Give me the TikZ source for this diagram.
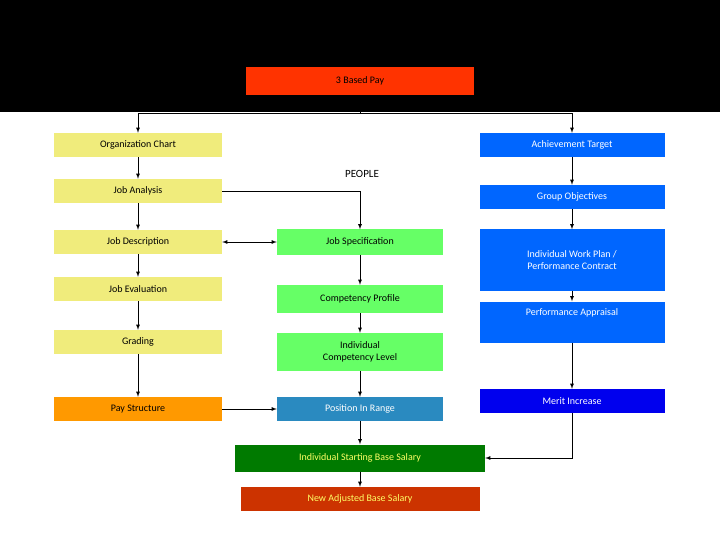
\documentclass[tikz,border=0pt]{standalone}
\usepackage{fontspec}
\setmainfont{Carlito}
\usetikzlibrary{arrows,calc,positioning}
\definecolor{ylbox}{HTML}{F0EC7C}
\definecolor{orbox}{HTML}{FF9900}
\definecolor{blbox}{HTML}{0066FF}
\definecolor{dbbox}{HTML}{0000EE}
\definecolor{grbox}{HTML}{66FF66}
\definecolor{tlbox}{HTML}{2A8AC0}
\definecolor{dgbox}{HTML}{007A00}
\definecolor{rdbox}{HTML}{CC3300}
\definecolor{ttbox}{HTML}{FF3300}
\definecolor{yltext}{HTML}{FFFF66}

\begin{document}
\begin{tikzpicture}[
    x=1pt, y=-1pt,
    font=\fontsize{10}{12}\selectfont,
    box/.style={rectangle, inner sep=0, align=center},
    leftbox/.style={box, fill=ylbox, minimum width=168pt, minimum height=24pt},
    rightbox/.style={box, fill=blbox, text=white, minimum width=185pt, minimum height=24pt},
    midbox/.style={box, fill=grbox, minimum width=166pt, minimum height=25pt},
    conn/.style={draw, thick, -latex}]
\useasboundingbox (0,0) rectangle (720,540);
\fill[black] (0,0) rectangle (720,112);

\node[box, fill=ttbox, minimum width=228pt, minimum height=28pt] (title) at (360,81) {3 Based Pay};

% left column
\node[leftbox] (org) at (138,145) {Organization Chart};
\node[leftbox] (analysis) at (138,191) {Job Analysis};
\node[leftbox] (desc) at (138,242) {Job Description};
\node[leftbox] (eval) at (138,289) {Job Evaluation};
\node[leftbox] (grading) at (138,342) {Grading};
\node[leftbox, fill=orbox] (paystruct) at (138,409) {Pay Structure};

% middle column
\node[box] (people) at (362,174) {\fontsize{11}{13}\selectfont PEOPLE};
\node[midbox] (jobspec) at (360,242) {Job Specification};
\node[midbox, minimum height=28pt] (competency) at (360,299) {Competency Profile};
\node[midbox, minimum height=38pt] (level) at (360,352) {Individual\\Competency Level};
\node[midbox, fill=tlbox, text=white, minimum height=24pt] (position) at (360,409) {Position In Range};
\node[box, fill=dgbox, text=yltext, minimum width=250pt, minimum height=27pt] (starting) at (360,458) {Individual Starting Base Salary};
\node[box, fill=rdbox, text=yltext, minimum width=239pt, minimum height=24pt] (adjusted) at (360,499) {New Adjusted Base Salary};

% right column
\node[rightbox] (target) at (572,145) {Achievement Target};
\node[rightbox] (group) at (572,197) {Group Objectives};
\node[rightbox, minimum height=61pt] (workplan) at (572,260) {Individual Work Plan /\\Performance Contract};
\node[rightbox, minimum height=41pt, text depth=20pt] (appraisal) at (572,322) {Performance Appraisal};
\node[rightbox, fill=dbbox] (merit) at (572,401) {Merit Increase};

\coordinate (split) at (360,113);
\draw[thick] (title.south) -- (split);
\draw[conn] (split) -| (org.north);
\draw[conn] (split) -| (target.north);

\draw[conn] (org) -- (analysis);
\draw[conn] (analysis) -- (desc);
\draw[conn] (desc) -- (eval);
\draw[conn] (eval) -- (grading);
\draw[conn] (grading) -- (paystruct);

\draw[conn] (analysis.east) -| (jobspec.north);
\draw[thick, latex-latex] (desc) -- (jobspec);
\draw[conn] (jobspec) -- (competency);
\draw[conn] (competency) -- (level);
\draw[conn] (level) -- (position);
\draw[conn] (paystruct) -- (position);
\draw[conn] (position) -- (starting);
\draw[conn] (starting) -- (adjusted);

\draw[conn] (target) -- (group);
\draw[conn] (group) -- (workplan);
\draw[conn] (workplan) -- (appraisal);
\draw[conn] (appraisal) -- (merit);
\draw[conn] (merit.south) |- (starting.east);
\end{tikzpicture}
\end{document}
